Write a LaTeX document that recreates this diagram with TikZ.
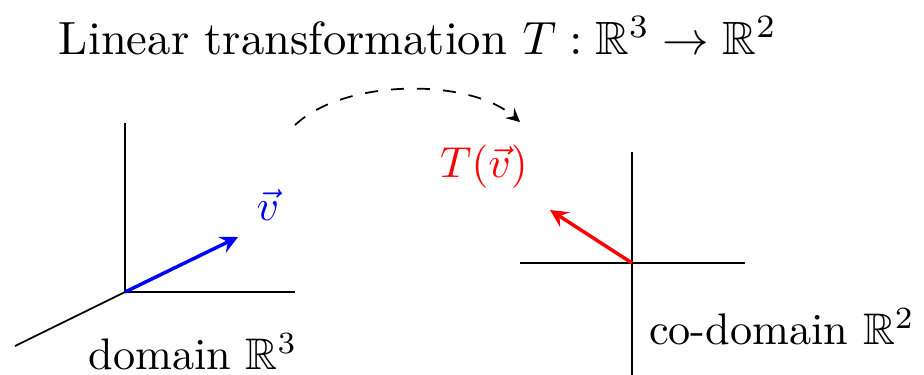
\documentclass[tikz,border=0pt]{standalone}
\usepackage{amssymb}
\begin{document}
\begin{tikzpicture}[x=0.0081cm,y=-0.0081cm,>=stealth]
\useasboundingbox (0,0) rectangle (924,374);
\node[scale=1.075] (title) at (418,36) {Linear transformation $T:\mathbb{R}^3\to\mathbb{R}^2$};
% domain
\coordinate (o1) at (125,292);
\coordinate (up1) at (125,123);
\coordinate (right1) at (295,292);
\coordinate (diag1) at (15,346);
\coordinate (v) at (238,237);
\draw (o1) -- (up1);
\draw (o1) -- (right1);
\draw (o1) -- (diag1);
\draw[->,thick,blue] (o1) -- (v);
\node[blue] (vlabel) at (268,205) {$\vec{v}$};
\node[scale=1.02] (domainlabel) at (193,352) {domain $\mathbb{R}^3$};
% co-domain
\coordinate (o2) at (632,263);
\coordinate (up2) at (632,152);
\coordinate (down2) at (632,380);
\coordinate (left2) at (520,263);
\coordinate (right2) at (745,263);
\coordinate (tv) at (550,210);
\draw (up2) -- (down2);
\draw (left2) -- (right2);
\draw[->,thick,red] (o2) -- (tv);
\node[red] (tvlabel) at (484,167) {$T(\vec{v})$};
\node[scale=1.02] (codomainlabel) at (782,327) {co-domain $\mathbb{R}^2$};
% map
\coordinate (from) at (295,125);
\coordinate (to) at (520,122);
\draw[->,dashed] (from) .. controls (345,78) and (470,78) .. (to);
\end{tikzpicture}
\end{document}
